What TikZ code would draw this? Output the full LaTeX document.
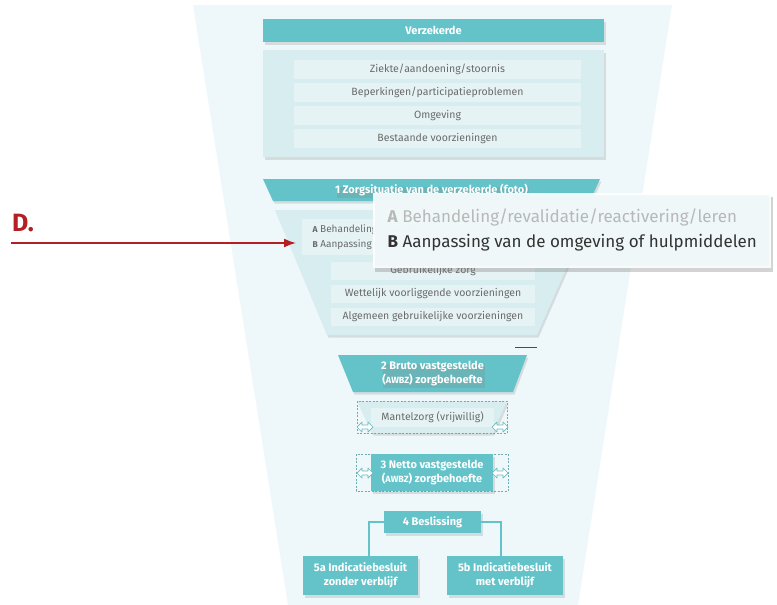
\documentclass[tikz,border=0pt]{standalone}
\usepackage{fontspec}
\setmainfont{Fira Sans}
\usetikzlibrary{positioning,shadows,arrows.meta}

\definecolor{tealfill}{HTML}{64C3C9}
\definecolor{funnelbg}{HTML}{EEF7F9}
\definecolor{panelbg}{HTML}{D7EDF0}
\definecolor{rowbg}{HTML}{E6F3F5}
\definecolor{rowtext}{HTML}{6A6A6A}
\definecolor{markred}{HTML}{B31F24}

\newcommand{\awbz}{{\fontsize{9}{11}\selectfont AWBZ}}

\begin{document}
\begin{tikzpicture}[x=1pt,y=-1pt,>=Latex,
    softshadow/.style={drop shadow={opacity=0.22,shadow xshift=1.5pt,shadow yshift=-2.5pt}},
    headbox/.style={fill=tealfill,text=white,font=\fontsize{11}{14}\selectfont\bfseries,align=center,inner sep=0pt,softshadow},
    rowbox/.style={fill=rowbg,text=rowtext,font=\fontsize{10.5}{12}\selectfont,inner sep=0pt,minimum height=19pt},
    dashframe/.style={draw=tealfill!70!gray,dashed,dash pattern=on 2pt off 1.5pt,line width=0.4pt},
    twoway/.style={draw=tealfill!85!gray,fill=white,line width=0.7pt,line join=round},
    link/.style={draw=tealfill,line width=1.8pt}]
  \useasboundingbox (0,0) rectangle (777,605);

  % funnel in the background
  \fill[funnelbg] (193,5) -- (672,5) -- (578,605) -- (288,605) -- cycle;

  % Verzekerde
  \node[headbox,minimum width=341pt,minimum height=23pt] (verz) at (433.5,30.5) {Verzekerde};
  \fill[panelbg,softshadow] (263,50) rectangle (604,157);
  \foreach \i/\txt in {0/Ziekte\slash aandoening\slash stoornis,
                       1/Beperkingen\slash participatieproblemen,
                       2/Omgeving,
                       3/Bestaande voorzieningen}
  {
    \node[rowbox,minimum width=287pt] (row\i) at (437.5,69.5+23*\i) {\txt};
  }

  % 1 zorgsituatie
  \fill[tealfill,softshadow] (263,179) -- (600,179) -- (590,201) -- (273,201) -- cycle;
  \node[headbox,fill=none,drop shadow={opacity=0}] (zorg) at (431.5,190) {1 Zorgsituatie van de verzekerde (foto)};
  \fill[panelbg,softshadow] (275,210) -- (592,210) -- (537,335) -- (327,335) -- cycle;
  \fill[rowbg] (302,219) rectangle (556,255);
  \node[text=rowtext,font=\fontsize{10}{15}\selectfont,align=left,anchor=west] (ab) at (309,237)
    {{\bfseries\fontsize{8.5}{15}\selectfont A} Behandeling/revalidatie/reactivering/leren\\
     {\bfseries\fontsize{8.5}{15}\selectfont B} Aanpassing van de omgeving of hulpmiddelen};
  \foreach \i/\txt in {0/Gebruikelijke zorg,
                       1/Wettelijk voorliggende voorzieningen,
                       2/Algemeen gebruikelijke voorzieningen}
  {
    \node[rowbox,minimum width=204pt,minimum height=18pt] (low\i) at (433,271+23*\i) {\txt};
  }

  % uitvergroting
  \fill[white,opacity=0.9,drop shadow={opacity=0.35,shadow xshift=2pt,shadow yshift=-4pt}]
    (373,193) rectangle (771,268);
  \fill[funnelbg,opacity=0.85] (375,195) rectangle (769,266);
  \node[text=black!28,font=\fontsize{17}{19}\selectfont,anchor=west] (zoomA) at (384,217)
    {\textbf{A} Behandeling/revalidatie/reactivering/leren};
  \node[text=black!80,font=\fontsize{17}{19}\selectfont,anchor=west] (zoomB) at (384,243)
    {\textbf{B} Aanpassing van de omgeving of hulpmiddelen};

  % D. pijl
  \node[text=markred,font=\fontsize{25}{25}\selectfont\bfseries] (dmark) at (23,223) {D.};
  \coordinate (dstart) at (11,243);
  \coordinate (dend) at (296,243);
  \draw[markred,line width=1.6pt,-{Latex[length=12pt,width=9pt]}] (dstart) -- (dend);

  \coordinate (tickL) at (515,347);
  \coordinate (tickR) at (537,347);
  \draw[black!70,line width=0.6pt] (tickL) -- (tickR);

  % 2 bruto
  \fill[tealfill,softshadow] (338,355) -- (527,355) -- (513,392) -- (353,392) -- cycle;
  \node[headbox,fill=none,drop shadow={opacity=0}] (bruto) at (432.5,373.5) {2 Bruto vastgestelde\\(\awbz) zorgbehoefte};

  % mantelzorg
  \fill[panelbg,softshadow] (357,401) -- (507,401) -- (493,433) -- (372,433) -- cycle;
  \draw[dashframe] (357,401) rectangle (507,433);
  \node[rowbox,minimum width=123pt] (mantel) at (432.5,417.5) {Mantelzorg (vrijwillig)};

  % 3 netto
  \draw[dashframe] (356,454) rectangle (508,491);
  \node[headbox,minimum width=122pt,minimum height=37pt] (netto) at (432,472.5) {3 Netto vastgestelde\\(\awbz) zorgbehoefte};

  % hollow double arrows on the dashed frames
  \foreach \cx/\cy in {365/427, 500/427, 365/473, 500/473}
  {
    \draw[twoway] (\cx-8,\cy) -- (\cx-3,\cy-5) -- (\cx-3,\cy-2) -- (\cx+3,\cy-2) -- (\cx+3,\cy-5)
      -- (\cx+8,\cy) -- (\cx+3,\cy+5) -- (\cx+3,\cy+2) -- (\cx-3,\cy+2) -- (\cx-3,\cy+5) -- cycle;
  }

  % 4 beslissing en 5a/5b
  \node[headbox,minimum width=97pt,minimum height=22pt] (besl) at (432.5,522) {4 Beslissing};
  \node[headbox,minimum width=115pt,minimum height=39pt] (ind5a) at (360.5,575.5) {5a Indicatiebesluit\\zonder verblijf};
  \node[headbox,minimum width=116pt,minimum height=39pt] (ind5b) at (505,575.5) {5b Indicatiebesluit\\met verblijf};
  \draw[link] (besl.west) -| ([xshift=8.5pt]ind5a.north);
  \draw[link] (besl.east) -| ([xshift=-4pt]ind5b.north);
\end{tikzpicture}
\end{document}
